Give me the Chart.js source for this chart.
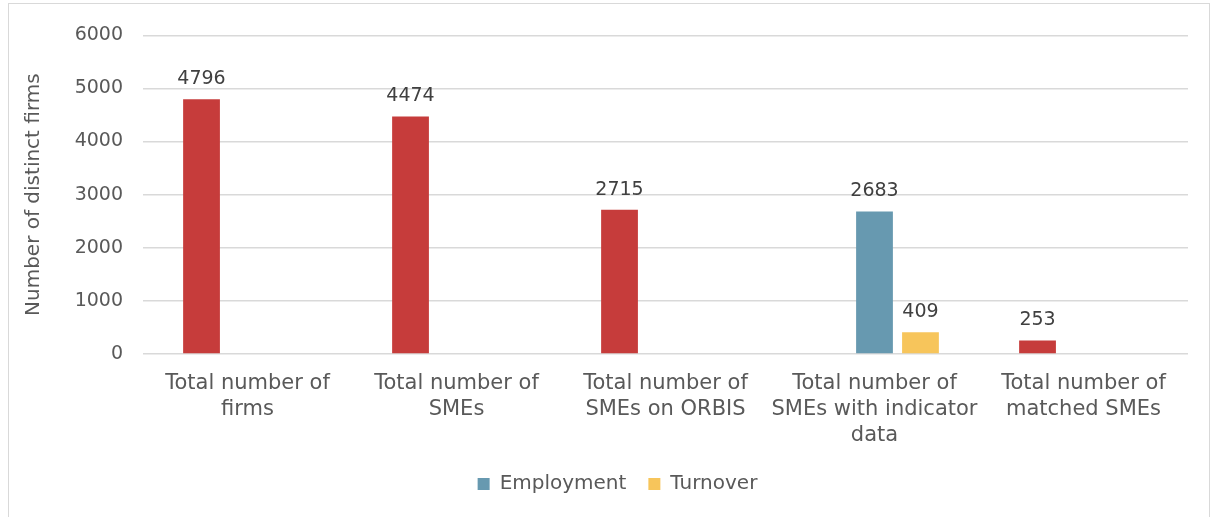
<!DOCTYPE html>
<html>
<head>
<meta charset="utf-8">
<script src="https://cdn.jsdelivr.net/npm/chart.js@4/dist/chart.umd.min.js"></script>
<style>
  html, body { margin: 0; padding: 0; background: #fff; overflow: hidden; }
  .frame {
    position: absolute; left: 8px; top: 3px;
    width: 1200px; height: 540px;
    border: 1px solid #d9d9d9;
  }
  .box { position: absolute; left: 0; top: 0; width: 1200px; height: 513px; }
</style>
</head>
<body>
<div class="frame"><div class="box"><canvas id="mainChart"></canvas></div></div>
<script>
const categories = [
    ['Total number of', 'firms'],
    ['Total number of', 'SMEs'],
    ['Total number of', 'SMEs on ORBIS'],
    ['Total number of', 'SMEs with indicator', 'data'],
    ['Total number of', 'matched SMEs']
];
const firmCounts = [4796, 4474, 2715, null, 253];
const employment = [null, null, null, 2683, null];
const turnover   = [null, null, null, 409, null];
const yTicks = [0, 1000, 2000, 3000, 4000, 5000, 6000];

const FONT = "'DejaVu Sans', sans-serif";
const TEXT = '#595959';

// numeros encima de cada barra
const valueLabels = {
    id: 'valueLabels',
    afterDatasetsDraw(chart) {
        const ctx = chart.ctx;
        ctx.save();
        ctx.font = '19px ' + FONT;
        ctx.fillStyle = '#404040';
        ctx.textAlign = 'center';
        ctx.textBaseline = 'alphabetic';
        chart.data.datasets.forEach((ds, i) => {
            const meta = chart.getDatasetMeta(i);
            meta.data.forEach((bar, j) => {
                const v = ds.data[j];
                if (v == null) return;
                ctx.fillText(String(v), bar.x, bar.y - 15);
            });
        });
        ctx.restore();
    }
};

new Chart(document.getElementById('mainChart'), {
    type: 'bar',
    data: {
        labels: categories,
        datasets: [
            { label: 'Firms', data: firmCounts, backgroundColor: '#C63C3B' },
            { label: 'Employment', data: employment, backgroundColor: '#6799B0' },
            { label: 'Turnover', data: turnover, backgroundColor: '#F7C55B' }
        ]
    },
    options: {
        responsive: true,
        maintainAspectRatio: false,
        animation: false,
        categoryPercentage: 0.66,
        barPercentage: 0.8,
        // el padding izquierdo corre la leyenda hacia la derecha
        layout: { padding: { top: 22, right: 21, left: 38, bottom: 13 } },
        scales: {
            x: {
                afterFit: s => { s.height -= 6; },
                grid: { display: false },
                border: { display: false },
                ticks: {
                    color: TEXT,
                    font: { family: FONT, size: 21, lineHeight: 1.24 },
                    padding: 9,
                    maxRotation: 0,
                    autoSkip: false
                }
            },
            y: {
                min: 0,
                max: 6000,
                afterBuildTicks: s => { s.ticks = yTicks.map(v => ({ value: v })); },
                afterFit: s => { s.width = 96; },
                grid: { color: '#d9d9d9', lineWidth: 1.5, drawTicks: false },
                border: { display: false },
                ticks: {
                    color: TEXT,
                    font: { family: FONT, size: 19 },
                    padding: 20,
                    callback: v => String(v)
                },
                title: {
                    display: true,
                    text: 'Number of distinct firms',
                    color: TEXT,
                    font: { family: FONT, size: 20 },
                    padding: { top: -25, bottom: 0 }
                }
            }
        },
        plugins: {
            legend: {
                position: 'bottom',
                labels: {
                    filter: item => item.datasetIndex !== 0,
                    color: TEXT,
                    font: { family: FONT, size: 20 },
                    boxWidth: 12,
                    boxHeight: 12,
                    padding: 22
                }
            },
            tooltip: { enabled: false }
        }
    },
    plugins: [valueLabels]
});
</script>
</body>
</html>
